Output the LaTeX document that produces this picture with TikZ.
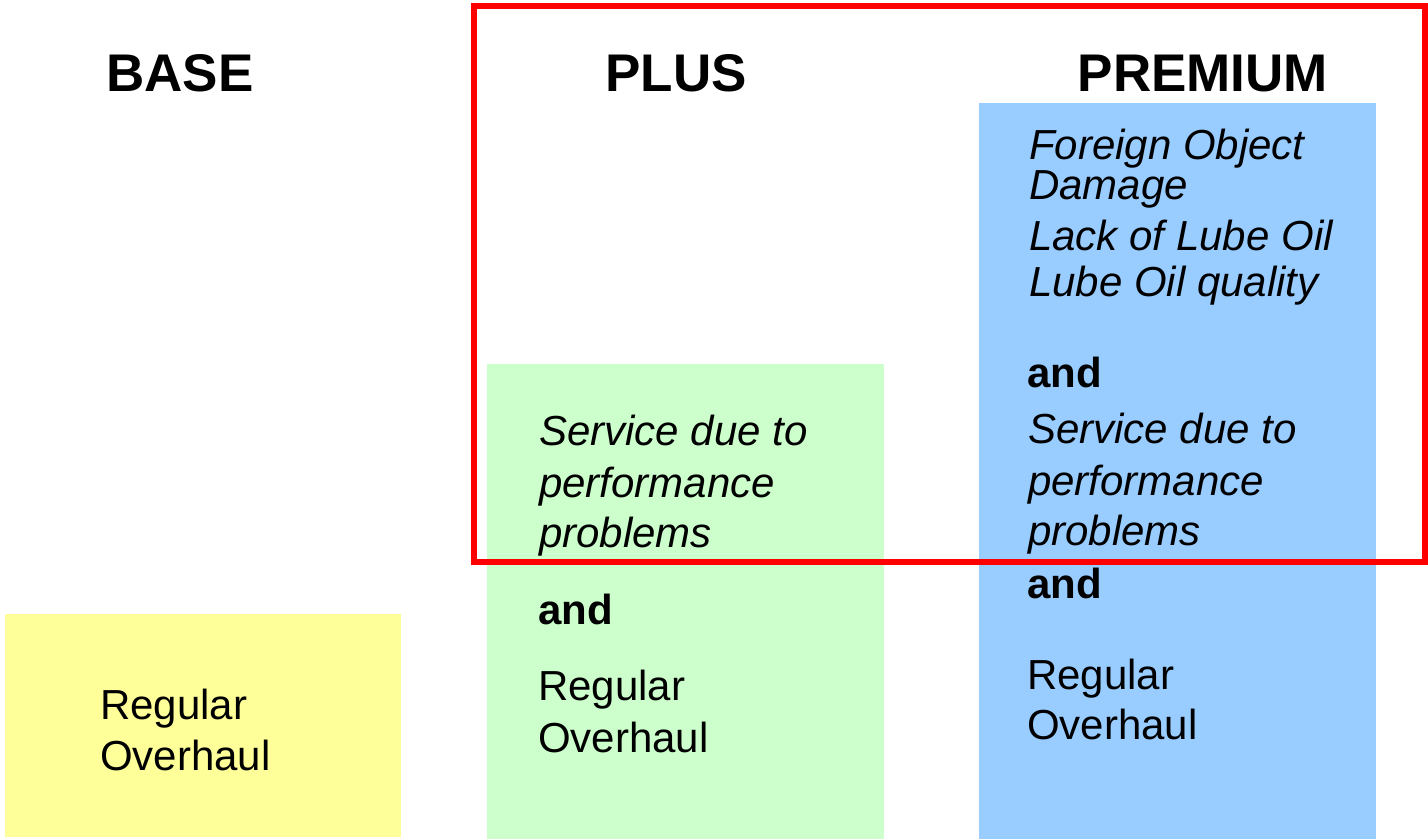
\documentclass[tikz,border=0pt]{standalone}
\usepackage{fontspec}
\setmainfont{Liberation Sans}
\usepackage{tikz}
\usetikzlibrary{positioning}

\definecolor{baseyellow}{HTML}{FFFF99}
\definecolor{plusgreen}{HTML}{CCFFCC}
\definecolor{premblue}{HTML}{99CCFF}
\definecolor{framered}{HTML}{FF0000}

\begin{document}
\begin{tikzpicture} [
    x=1pt, y=-1pt,
    header/.style = {anchor=base, inner sep=0pt, font=\fontsize{53}{60}\selectfont\bfseries},
    body/.style = {anchor=base west, inner sep=0pt, font=\fontsize{42}{51}\selectfont},
    cause/.style = {body, font=\fontsize{42}{51}\selectfont\itshape},
    joiner/.style = {body, font=\fontsize{42}{51}\selectfont\bfseries}
]
    \useasboundingbox[fill=white] (0,0) rectangle (1428,839);

    % column boxes
    \fill[baseyellow] (5,614) rectangle (401,837);
    \fill[plusgreen] (487,364) rectangle (884,839);
    \fill[premblue] (979,103) rectangle (1376,839);

    % headers
    \node[header] (base) at (180,91) {BASE};
    \node[header] (plus) at (676,91) {PLUS};
    \node[header] (premium) at (1203,91) {PREMIUM};

    % BASE
    \node[body] (basereg) at (100,719) {Regular};
    \node[body] (baseoh) at (100,770) {Overhaul};

    % PLUS
    \node[cause] (plusserv) at (539,445) {Service due to};
    \node[cause] (plusperf) at (539,497) {performance};
    \node[cause] (plusprob) at (539,547) {problems};
    \node[joiner] (plusand) at (538,624) {and};
    \node[body] (plusreg) at (538,700) {Regular};
    \node[body] (plusoh) at (538,752) {Overhaul};

    % PREMIUM
    \node[cause] (premfod) at (1029,159) {Foreign Object};
    \node[cause] (premdmg) at (1029,199) {Damage};
    \node[cause] (premlack) at (1029,250) {Lack of Lube Oil};
    \node[cause] (premqual) at (1029,296) {Lube Oil quality};
    \node[joiner] (premand) at (1027,387) {and};
    \node[cause] (premserv) at (1028,443) {Service due to};
    \node[cause] (premperf) at (1028,495) {performance};
    \node[cause] (premprob) at (1028,545) {problems};
    \node[joiner] (premandb) at (1027,598) {and};
    \node[body] (premreg) at (1027,689) {Regular};
    \node[body] (premoh) at (1027,739) {Overhaul};

    \draw[framered, line width=6pt] (473.5,5.5) rectangle (1424.5,561.5);
\end{tikzpicture}
\end{document}
